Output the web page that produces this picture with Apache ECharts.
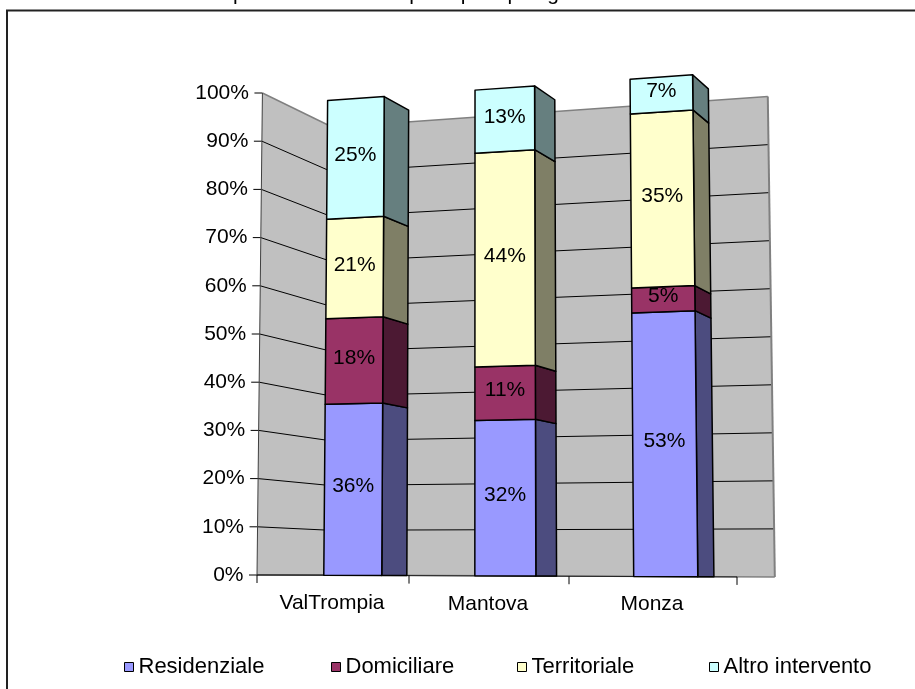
<!DOCTYPE html>
<html>
<head>
<meta charset="utf-8">
<script src="https://cdn.jsdelivr.net/npm/echarts@6/dist/echarts.min.js"></script>
<style>
  html, body { margin: 0; padding: 0; background: #fff; }
  #chart { width: 915px; height: 689px; }
</style>
</head>
<body>
<div id="chart"></div>
<script>
const FONT = '"Liberation Sans", Arial, Helvetica, sans-serif';
const FONT_SIZE = 21;
const LEGEND_FONT_SIZE = 22;

// ---- data ----
const titleText = 'Grafico 5. Distribuzione percentuale della spesa per tipologia di intervento';
const categories = ['ValTrompia', 'Mantova', 'Monza'];
const seriesNames = ['Residenziale', 'Domiciliare', 'Territoriale', 'Altro intervento'];
const residenziale = [36, 32, 53];
const domiciliare = [18, 11, 5];
const territoriale = [21, 44, 35];
const altroIntervento = [25, 13, 7];
const yTickValues = [0, 10, 20, 30, 40, 50, 60, 70, 80, 90, 100];
const yTickLabels = ['0%', '10%', '20%', '30%', '40%', '50%', '60%', '70%', '80%', '90%', '100%'];

// ---- look ----
const frontColors = ['#9999FF', '#993366', '#FFFFCC', '#CCFFFF'];
const sideColors = ['#4C4C7F', '#4C1933', '#7F7F66', '#667F7F'];

// perspective parameters of the pseudo-3D scene
const VIEW = {
  warp: 0.075,        // category spacing grows to the right
  vpX: 2.11,          // depth vanishing point (fraction of plot width from left)
  centerX: 0.47,      // verticals converge towards this x
  lean: 5.0e-5,       // amount of vertical convergence per pixel of height
  grow: 0.0001515,    // vertical scale grows to the right
  floorTilt: 0.004,   // floor line drops slightly to the right
  kBarFront: 0.022,   // depth of bar front faces
  kBarBack: 0.0496,   // depth of bar back faces
  kWall: 0.071,       // depth of back wall
  barRatio: 0.39      // bar width relative to category band
};

function makeProjector(cs) {
  const X0 = cs.x, W = cs.width, Y0 = cs.y + cs.height;
  return function (fxLin, h, k) {
    const t = (fxLin - X0) / W;
    const fx = fxLin - VIEW.warp * W * t * (1 - t);
    const s = 1 + (fx - X0) * VIEW.grow;
    const floorY = Y0 + (fx - X0) * VIEW.floorTilt;
    let x = fx + k * (X0 + VIEW.vpX * W - fx);
    const y = floorY - h * s * (1 - k);
    x += (X0 + VIEW.centerX * W - x) * VIEW.lean * h;
    return [x, y];
  };
}

function poly(points, style) {
  return { type: 'polygon', shape: { points: points }, style: style };
}
function seg(a, b, stroke, width) {
  return {
    type: 'line',
    shape: { x1: a[0], y1: a[1], x2: b[0], y2: b[1] },
    style: { stroke: stroke, lineWidth: width }
  };
}
function label(x, y, text, align) {
  return {
    type: 'text',
    style: {
      x: x, y: y, text: text, align: align, verticalAlign: 'middle',
      font: FONT_SIZE + 'px ' + FONT, fill: '#000'
    }
  };
}

// walls, gridlines, axes and their labels
function renderScene(params, api) {
  const cs = params.coordSys;
  const P = makeProjector(cs);
  const X0 = cs.x, X1 = cs.x + cs.width;
  const zeroY = api.coord([0, 0])[1];
  const hOf = v => zeroY - api.coord([0, v])[1];
  const topV = yTickValues[yTickValues.length - 1];
  const H = hOf(topV);
  const kW = VIEW.kWall;
  const out = [];

  out.push(poly([P(X0, 0, 0), P(X0, 0, kW), P(X0, H, kW), P(X0, H, 0)], { fill: '#C0C0C0' }));
  out.push(poly([P(X0, 0, kW), P(X1, 0, kW), P(X1, H, kW), P(X0, H, kW)], { fill: '#C0C0C0' }));

  yTickValues.forEach((v, i) => {
    const h = hOf(v);
    const a = P(X0, h, 0), b = P(X0, h, kW), c = P(X1, h, kW);
    if (v === topV) {
      out.push(seg(a, b, '#808080', 1.5));
      out.push(seg(b, c, '#808080', 1.5));
    } else if (v === 0) {
      out.push(seg(a, b, '#000', 1));
      out.push(seg(b, c, '#808080', 1.5));
    } else {
      out.push(seg(a, b, '#000', 1));
      out.push(seg(b, c, '#000', 1));
    }
    // tick and label
    out.push(seg([a[0] - 8, a[1]], a, '#000', 1));
    out.push(label(a[0] - 13.5, a[1], yTickLabels[i], 'right'));
  });

  // right edge of back wall
  out.push(seg(P(X1, 0, kW), P(X1, H, kW), '#808080', 2));
  // value axis line
  out.push(seg(P(X0, 0, 0), P(X0, H, 0), '#404040', 1));
  // category axis line, ticks and labels
  out.push(seg(P(X0, 0, 0), P(X1, 0, 0), '#202020', 1));
  const band = cs.width / categories.length;
  for (let i = 0; i <= categories.length; i++) {
    const p = P(X0 + i * band, 0, 0);
    out.push(seg(p, [p[0], p[1] + 8], '#000', 1));
  }
  categories.forEach((name, i) => {
    const p = P(X0 + (i + 0.5) * band, 0, 0);
    out.push(label(p[0], p[1] + 28, name, 'center'));
  });
  return { type: 'group', children: out };
}

function renderLayer(layer) {
  return function (params, api) {
    const cs = params.coordSys;
    const P = makeProjector(cs);
    const ci = api.value(0), v0 = api.value(1), v1 = api.value(2), val = api.value(3);
    const c = api.coord([ci, 0]);
    const band = api.size([1, 0])[0];
    const half = band * VIEW.barRatio / 2;
    const h0 = c[1] - api.coord([ci, v0])[1];
    const h1 = c[1] - api.coord([ci, v1])[1];
    const L = c[0] - half, R = c[0] + half;
    const kF = VIEW.kBarFront, kB = VIEW.kBarBack;
    const edge = { stroke: '#000', lineWidth: 1.5, lineJoin: 'round' };
    const side = [P(R, h0, kF), P(R, h0, kB), P(R, h1, kB), P(R, h1, kF)];
    const front = [P(L, h0, kF), P(R, h0, kF), P(R, h1, kF), P(L, h1, kF)];
    const mid = P(c[0], (h0 + h1) / 2, kF);
    return {
      type: 'group',
      children: [
        poly(side, Object.assign({ fill: sideColors[layer] }, edge)),
        poly(front, Object.assign({ fill: frontColors[layer] }, edge)),
        label(mid[0], mid[1] - 3, val + '%', 'center')
      ]
    };
  };
}

// stack the layers
const layers = [residenziale, domiciliare, territoriale, altroIntervento];
const cumulative = categories.map(() => 0);
const layerData = layers.map(values => values.map((v, j) => {
  const start = cumulative[j];
  cumulative[j] += v;
  return [j, start, start + v, v];
}));

const legendLeft = [124, 331, 517, 709];

const option = {
  animation: false,
  backgroundColor: '#fff',
  textStyle: { fontFamily: FONT },
  grid: { left: 257, right: 178, top: 93, bottom: 114, containLabel: false },
  xAxis: {
    type: 'category', data: categories,
    axisLine: { show: false }, axisTick: { show: false }, axisLabel: { show: false }
  },
  yAxis: {
    type: 'value', min: 0, max: 100, interval: 10,
    axisLine: { show: false }, axisTick: { show: false }, axisLabel: { show: false },
    splitLine: { show: false }
  },
  legend: seriesNames.map((name, i) => ({
    data: [{ name: name, itemStyle: { borderColor: '#000', borderWidth: 1 } }],
    left: legendLeft[i], top: 656, padding: 0,
    icon: 'rect', itemWidth: 9, itemHeight: 9, itemGap: 4,
    selectedMode: false,
    textStyle: { fontSize: LEGEND_FONT_SIZE, fontFamily: FONT, color: '#000' }
  })),
  graphic: [
    {
      type: 'rect', silent: true, z: -10,
      shape: { x: 7, y: 10.5, width: 1000, height: 1000 },
      style: { fill: 'none', stroke: '#222', lineWidth: 2 }
    },
    {
      type: 'text', silent: true,
      style: {
        x: 9, y: 4.5, text: titleText, verticalAlign: 'bottom',
        font: FONT_SIZE + 'px ' + FONT, fill: '#000'
      }
    }
  ],
  series: [
    {
      type: 'custom', name: '__scene', silent: true, z: 1,
      data: [[0, 0, 100]],
      encode: { x: 0, y: [1, 2] },
      renderItem: renderScene
    }
  ].concat(seriesNames.map((name, i) => ({
    type: 'custom', name: name, z: 2,
    itemStyle: { color: frontColors[i], borderColor: '#000', borderWidth: 1 },
    data: layerData[i],
    encode: { x: 0, y: [1, 2] },
    renderItem: renderLayer(i)
  })))
};

const chart = echarts.init(document.getElementById('chart'), null, { renderer: 'canvas' });
chart.setOption(option);
</script>
</body>
</html>
